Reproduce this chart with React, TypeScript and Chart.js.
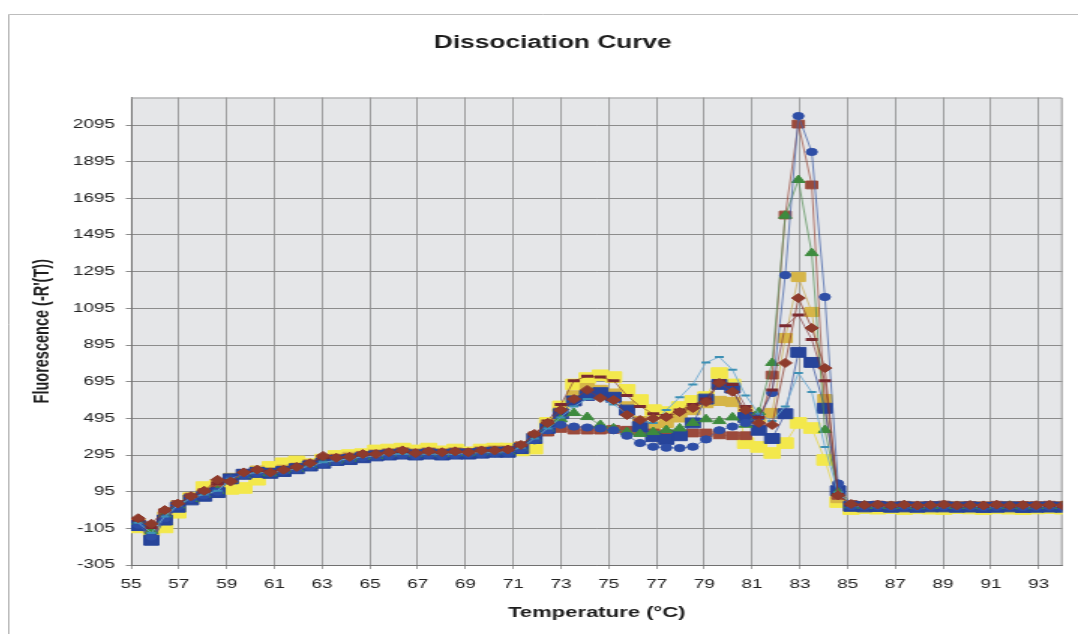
import { useEffect, useRef } from "react";
import { Chart, registerables } from "chart.js";

Chart.register(...registerables);

const FONT = "'Liberation Sans', Arial, Helvetica, sans-serif";

const chartTitle = "Dissociation Curve";
const xTitle = "Temperature (°C)";
const yTitle = "Fluorescence (-R'(T))";

const xTicks = [55, 57, 59, 61, 63, 65, 67, 69, 71, 73, 75, 77, 79, 81, 83, 85, 87, 89, 91, 93];
const yTicks = [-305, -105, 95, 295, 495, 695, 895, 1095, 1295, 1495, 1695, 1895, 2095];

const temperatures = [
  55.3, 55.85, 56.41, 56.96, 57.51, 58.06, 58.62, 59.17, 59.72,
  60.28, 60.83, 61.38, 61.93, 62.49, 63.04, 63.59, 64.15, 64.7,
  65.25, 65.8, 66.36, 66.91, 67.46, 68.02, 68.57, 69.12, 69.67,
  70.23, 70.78, 71.33, 71.89, 72.44, 72.99, 73.54, 74.1, 74.65,
  75.2, 75.76, 76.31, 76.86, 77.41, 77.97, 78.52, 79.07, 79.63,
  80.18, 80.73, 81.28, 81.84, 82.39, 82.94, 83.5, 84.05, 84.6,
  85.15, 85.71, 86.26, 86.82, 87.37, 87.92, 88.47, 89.03, 89.58,
  90.13, 90.69, 91.24, 91.79, 92.34, 92.9, 93.45, 94.0,
];

const blueSquares = [
  -90, -170, -60, 10, 50, 70, 90, 165, 190, 200, 195, 205, 220, 235, 250, 265, 270, 280, 290, 295, 300, 295, 300, 295, 300, 300, 305, 310, 310, 330, 385,
  440, 520, 590, 620, 635, 610, 540, 450, 395, 380, 400, 470, 600, 680, 660, 500, 430, 385, 520, 855, 800, 550, 100,
  15, 12, 14, 10, 12, 10, 12, 12, 10, 11, 9, 10, 12, 9, 10, 11, 10,
];

const brownDiamonds = [
  -50, -80, -5, 30, 70, 100, 160, 150, 200, 215, 200, 215, 230, 250, 290, 280, 285, 300, 300, 310, 320, 305, 315, 310, 315, 310, 320, 320, 325, 350, 410,
  470, 540, 600, 650, 606, 595, 513, 486, 495, 502, 529, 551, 584, 688, 640, 540, 470, 459, 797, 1151, 988, 769, 75,
  28, 22, 25, 20, 24, 20, 22, 25, 20, 22, 20, 24, 20, 22, 21, 23, 20,
];

const yellowSquares = [
  -100, -120, -100, -20, 60, 120, 130, 110, 115, 160, 230, 250, 260, 245, 270, 290, 295, 300, 320, 325, 330, 320, 330, 315, 325, 310, 325, 330, 330, 320, 330,
  470, 560, 680, 715, 730, 720, 650, 595, 540, 529, 557, 590, 611, 742, 680, 360, 339, 306, 360, 470, 442, 268, 38,
  0, 5, 2, 5, 0, 4, 2, 0, 5, 3, 0, 4, 2, 0, 3, 5, 2,
];

const mustardSquares = [
  -80, -130, -40, 20, 60, 80, 110, 170, 190, 210, 200, 215, 225, 245, 260, 275, 285, 290, 300, 305, 310, 305, 310, 305, 310, 305, 315, 320, 320, 340, 390,
  460, 530, 620, 660, 650, 630, 560, 480, 450, 470, 500, 540, 578, 590, 584, 540, 497, 524, 933, 1266, 1075, 600, 60,
  18, 15, 16, 14, 15, 13, 15, 16, 14, 15, 13, 14, 16, 13, 14, 15, 14,
];

const greenTriangles = [
  -70, -120, -30, 20, 55, 80, 100, 160, 185, 200, 195, 210, 220, 240, 255, 265, 275, 285, 290, 300, 305, 300, 305, 300, 305, 305, 310, 315, 315, 335, 385,
  440, 490, 524, 502, 459, 440, 420, 410, 420, 431, 440, 470, 490, 480, 500, 460, 529, 797, 1600, 1795, 1396, 431, 90,
  20, 18, 18, 16, 18, 15, 17, 18, 16, 17, 15, 16, 18, 15, 16, 17, 16,
];

const blueCircles = [
  -85, -150, -50, 15, 55, 75, 95, 165, 185, 195, 195, 205, 215, 230, 245, 260, 270, 280, 285, 290, 295, 290, 295, 290, 295, 300, 300, 305, 305, 325, 375,
  430, 460, 450, 445, 440, 430, 400, 360, 340, 335, 333, 340, 380, 430, 450, 470, 500, 633, 1276, 2144, 1948, 1157, 140,
  16, 14, 15, 12, 14, 12, 13, 14, 12, 13, 11, 12, 14, 11, 12, 13, 12,
];

const tealDashes = [
  -75, -130, -40, 20, 60, 80, 100, 165, 190, 200, 200, 210, 220, 235, 255, 265, 275, 285, 290, 300, 300, 300, 300, 300, 300, 305, 310, 310, 315, 335, 385,
  440, 500, 560, 600, 600, 570, 520, 480, 470, 540, 610, 680, 800, 829, 760, 620, 520, 480, 560, 742, 638, 339, 90,
  18, 16, 16, 14, 16, 14, 15, 16, 14, 15, 13, 14, 16, 13, 14, 15, 14,
];

const brownSquares = [
  -70, -110, -20, 25, 65, 90, 130, 160, 195, 205, 200, 212, 228, 245, 275, 275, 280, 292, 298, 305, 312, 302, 310, 305, 310, 308, 315, 318, 320, 345, 400,
  420, 440, 431, 431, 431, 435, 430, 420, 415, 410, 410, 415, 415, 405, 400, 400, 430, 731, 1604, 2100, 1768, 551, 75,
  25, 20, 22, 18, 21, 18, 20, 22, 18, 20, 18, 21, 18, 20, 19, 21, 18,
];

const maroonDashes = [
  -60, -100, -10, 30, 70, 95, 140, 155, 200, 210, 205, 215, 230, 250, 280, 280, 285, 295, 300, 308, 315, 305, 312, 308, 312, 310, 318, 320, 322, 348, 405,
  480, 570, 700, 725, 720, 700, 620, 560, 520, 510, 540, 570, 600, 700, 680, 560, 500, 650, 1000, 1059, 925, 700, 80,
  22, 18, 20, 16, 19, 16, 18, 20, 16, 18, 16, 19, 16, 18, 17, 19, 16,
];

export default function App() {
  const ref = useRef<HTMLCanvasElement>(null);

  useEffect(() => {
    const canvas = ref.current;
    if (!canvas) return;

    const mk = (
      label: string,
      values: number[],
      color: string,
      lineColor: string,
      style: any,
      radius: number,
      pbw = 1
    ) => ({
      label,
      data: temperatures.map((t, i) => ({ x: t, y: values[i] })),
      borderColor: lineColor,
      backgroundColor: color,
      borderWidth: 1,
      pointStyle: style,
      pointRadius: radius,
      pointBackgroundColor: color,
      pointBorderColor: color,
      pointBorderWidth: pbw,
      tension: 0,
      fill: false,
    });

    const framePlugin = {
      id: "frame",
      beforeDraw(chart: any) {
        const { ctx, chartArea: a, width, height } = chart;
        ctx.save();
        ctx.fillStyle = "#ffffff";
        ctx.fillRect(0, 0, width, height);
        ctx.fillStyle = "#e5e6e8";
        ctx.fillRect(a.left, a.top, a.right - a.left, a.bottom - a.top);
        ctx.strokeStyle = "#bdbdbd";
        ctx.lineWidth = 1;
        ctx.beginPath();
        ctx.moveTo(0.5, height);
        ctx.lineTo(0.5, 6.5);
        ctx.lineTo(width, 6.5);
        ctx.stroke();
        ctx.fillStyle = "#1e1e1e";
        ctx.font = `bold 17.5px ${FONT}`;
        ctx.textAlign = "center";
        ctx.textBaseline = "middle";
        ctx.fillText(chartTitle, 363, 35);
        ctx.restore();
      },
      beforeDatasetsDraw(chart: any) {
        const { ctx, chartArea: a } = chart;
        ctx.save();
        ctx.strokeStyle = "#9a9a9a";
        ctx.lineWidth = 1;
        ctx.beginPath();
        ctx.moveTo(a.left, a.top + 0.5);
        ctx.lineTo(a.right - 0.5, a.top + 0.5);
        ctx.lineTo(a.right - 0.5, a.bottom);
        ctx.stroke();
        ctx.restore();
      },
    };

    const chart = new Chart(canvas, {
      type: "line",
      data: {
        datasets: [
          mk("S2", brownDiamonds, "#8e3b2c", "rgba(142,59,44,0.75)", "rectRot", 4.5),
          mk("S9", maroonDashes, "#7a2a30", "rgba(122,42,48,0.6)", "line", 4, 3),
          mk("S7", tealDashes, "#3d90b4", "rgba(110,170,210,0.85)", "line", 3, 2),
          mk("S6", blueCircles, "#2e4ea6", "rgba(70,100,170,0.75)", "circle", 3.6),
          mk("S5", greenTriangles, "#3e8b3e", "rgba(80,140,80,0.7)", "triangle", 5),
          mk("S1", blueSquares, "#27449a", "rgba(60,85,160,0.75)", "rect", 7),
          mk("S8", brownSquares, "#9b4a3b", "rgba(155,74,59,0.7)", "rect", 5.5),
          mk("S4", mustardSquares, "#d6b548", "rgba(200,170,80,0.7)", "rect", 6.5),
          mk("S3", yellowSquares, "#f3e84c", "rgba(230,215,80,0.8)", "rect", 7.5),
        ],
      },
      options: {
        animation: false,
        responsive: false,
        devicePixelRatio: 1,
        layout: { padding: { left: 0, right: 10.3, top: 89.5, bottom: 0 } },
        plugins: {
          legend: { display: false },
          tooltip: { enabled: false },
          title: { display: false },
        },
        scales: {
          x: {
            type: "linear",
            min: 55,
            max: 94,
            afterBuildTicks: (s: any) => {
              s.ticks = xTicks.map((v) => ({ value: v }));
            },
            afterFit: (s: any) => {
              s.height = 69;
            },
            ticks: {
              autoSkip: false,
              maxRotation: 0,
              padding: 8.4,
              color: "#222222",
              font: { size: 12.6, family: FONT },
              callback: (v: any) => String(v),
            },
            grid: { color: "#8c8c8c", lineWidth: 0.8, tickLength: 4 },
            border: { color: "#707070", width: 1 },
            title: {
              display: true,
              text: xTitle,
              color: "#1e1e1e",
              font: { size: 14.7, weight: "bold", family: FONT },
              padding: { top: 0, bottom: 12.2 },
            },
          },
          y: {
            type: "linear",
            min: -305,
            max: 2245,
            afterBuildTicks: (s: any) => {
              s.ticks = yTicks.map((v) => ({ value: v }));
            },
            afterFit: (s: any) => {
              s.width = 82;
            },
            ticks: {
              autoSkip: false,
              padding: 7.2,
              color: "#222222",
              font: { size: 12.6, family: FONT },
              callback: (v: any) => String(v),
            },
            grid: { color: "#8c8c8c", lineWidth: 1, tickLength: 3.5 },
            border: { color: "#707070", width: 1 },
            title: {
              display: true,
              text: yTitle,
              color: "#1e1e1e",
              font: { size: 14.5, weight: "bold", family: FONT },
              padding: { top: 14.6, bottom: 0 },
            },
          },
        },
      } as any,
      plugins: [framePlugin],
    });

    return () => chart.destroy();
  }, []);

  return (
    <div
      style={{
        position: "fixed",
        left: 8,
        top: 8,
        width: 1070,
        height: 626,
        overflow: "hidden",
        background: "#ffffff",
      }}
    >
      <canvas
        ref={ref}
        width={713}
        height={626}
        style={{ width: "1070px", height: "626px", display: "block" }}
      />
    </div>
  );
}
